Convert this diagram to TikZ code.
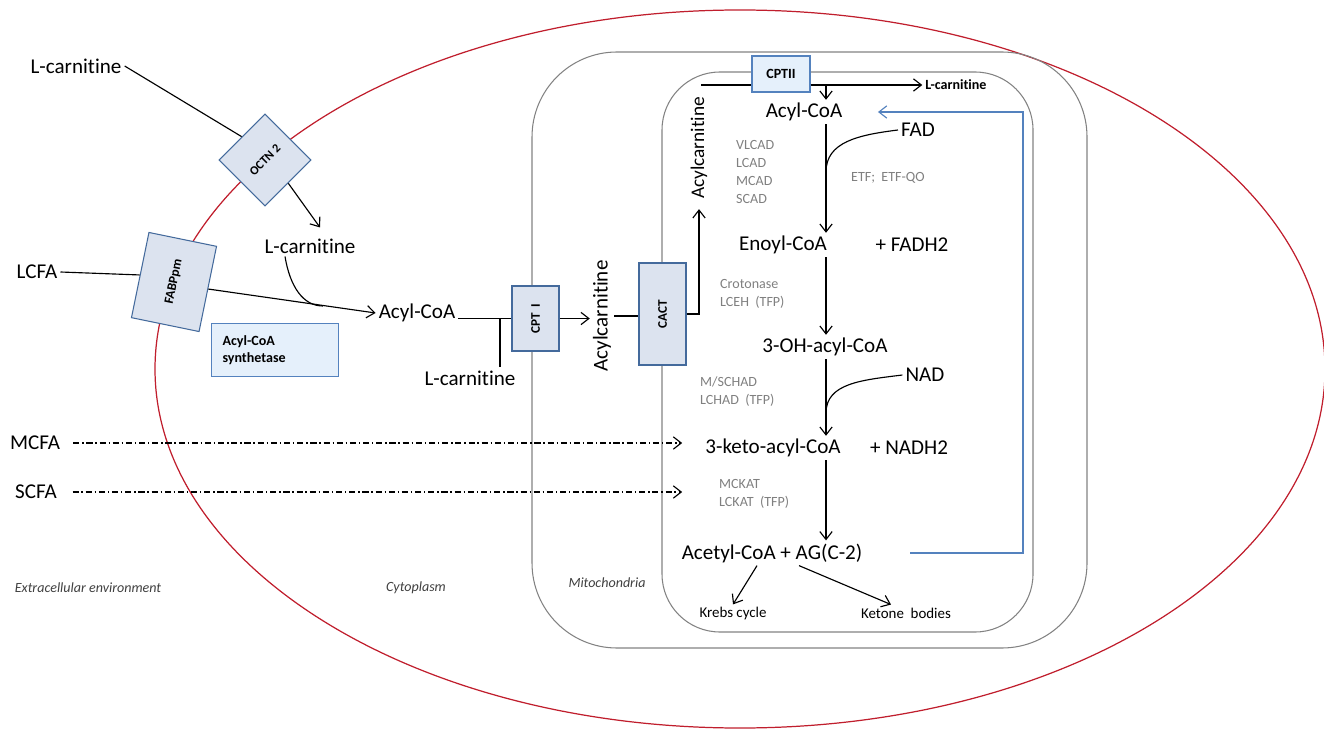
\documentclass[tikz,border=0pt]{standalone}
\usepackage{fontspec}
\setmainfont{Carlito}[Ligatures=NoCommon]
\usepackage{tikz}
\usetikzlibrary{arrows.meta}

\definecolor{membrane}{RGB}{192,30,45}
\definecolor{wall}{RGB}{130,130,130}
\definecolor{protfill}{RGB}{220,227,239}
\definecolor{protline}{RGB}{68,106,156}
\definecolor{synfill}{RGB}{229,240,251}
\definecolor{synline}{RGB}{84,130,190}
\definecolor{enzgray}{RGB}{128,128,128}
\definecolor{fbblue}{RGB}{84,130,190}
\definecolor{zonegray}{RGB}{64,64,64}

\begin{document}
\begin{tikzpicture}[x=0.02cm, y=0.02cm, line width=0.65pt]
\tikzstyle{every node}+=[inner sep=1.5pt]
\tikzstyle{met}=[font=\fontsize{12}{14}\selectfont]
\tikzstyle{enz}=[font=\fontsize{8}{10.2}\selectfont, text=enzgray, align=left, anchor=west]
\tikzstyle{zone}=[font=\fontsize{8}{9}\selectfont\itshape, text=zonegray]
\tikzstyle{prot}=[draw=protline, fill=protfill, line width=0.6pt, font=\fontsize{7.5}{9}\selectfont\bfseries, inner sep=0pt]
\tikzstyle{syn}=[draw=synline, fill=synfill, line width=0.6pt, font=\fontsize{8}{9.5}\selectfont\bfseries]
\tikzstyle{arr}=[-{Straight Barb[length=4.5pt,width=7pt]}]
\tikzstyle{dda}=[arr, dash pattern=on 3.5pt off 1.6pt on 0.8pt off 1.6pt]
\tikzstyle{fb}=[draw=fbblue, arr]
\useasboundingbox (0,0) rectangle (1324,-729);
\draw [draw=membrane, line width=0.7pt] (740,-369) ellipse (585 and 359);
\draw [draw=wall, line width=0.6pt, rounded corners=1.7cm] (532,-52) rectangle (1087,-648);
\draw [draw=wall, line width=0.6pt, rounded corners=1.16cm] (662,-72) rectangle (1033,-632);
\node [met] (lcar1) at (76,-66) {L-carnitine};
\node [met] (lcfa) at (37,-272) {LCFA};
\node [met] (mcfa) at (35,-443) {MCFA};
\node [met] (scfa) at (36,-492) {SCFA};
\node [prot, rotate=45, minimum width=1.3cm, minimum height=1.3cm, font=\fontsize{7}{8}\selectfont\bfseries] (octn) at (265,-160) {OCTN 2};
\node [prot, rotate=78.4, minimum width=1.74cm, minimum height=1.38cm] (fabp) at (174,-282) {FABPpm};
\node [met] (lcar2) at (310,-246) {L-carnitine};
\node [met] (acoa1) at (417,-313) {Acyl-CoA};
\node [syn, minimum width=2.54cm, minimum height=1.06cm, text width=2.1cm, align=left] (acs) at (275,-350) {Acyl-CoA\\synthetase};
\node [met] (lcar3) at (470,-378) {L-carnitine};
\node [prot, rotate=90, minimum width=1.3cm, minimum height=0.94cm] (cpt1) at (535.5,-318.5) {CPT~ I};
\node [met, rotate=90] (acyl1) at (602,-316) {Acylcarnitine};
\node [prot, rotate=90, minimum width=2.04cm, minimum height=0.94cm] (cact) at (662.5,-314) {CACT};
\node [met, rotate=90, font=\fontsize{11}{13}\selectfont] (acyl2) at (699,-148) {Acylcarnitine};
\node [syn, minimum width=1.16cm, minimum height=0.72cm] (cpt2) at (781,-74) {CPTII};
\node [font=\fontsize{8}{9.5}\selectfont\bfseries] (lcar4) at (956,-85) {L-carnitine};
\node [met] (acoa2) at (804,-112) {Acyl-CoA};
\node [met] (fad) at (918,-130) {FAD};
\node [met] (enoyl) at (783,-245) {Enoyl-CoA};
\node [met] (fadh) at (912,-245) {+ FADH2};
\node [met] (ohacyl) at (825,-347) {3-OH-acyl-CoA};
\node [met] (nad) at (925,-375) {NAD};
\node [met] (keto) at (773,-448) {3-keto-acyl-CoA};
\node [met] (nadh) at (909,-448) {+ NADH2};
\node [met] (acetyl) at (772,-553) {Acetyl-CoA + AG(C-2)};
\node [font=\fontsize{8.5}{10}\selectfont] (krebs) at (733,-614) {Krebs cycle};
\node [font=\fontsize{8.5}{10}\selectfont] (ketone) at (906,-613) {Ketone~ bodies};
\node [enz] (acad) at (733,-172) {VLCAD\\LCAD\\MCAD\\SCAD};
\node [enz] (etf) at (848,-178) {ETF;~ ETF-QO};
\node [enz] (hyd) at (717,-294) {Crotonase\\LCEH~ (TFP)};
\node [enz] (had) at (697,-392) {M/SCHAD\\LCHAD~ (TFP)};
\node [enz] (kat) at (716,-494) {MCKAT\\LCKAT~ (TFP)};
\node [zone] (extra) at (88,-588) {Extracellular environment};
\node [zone] (cyto) at (416,-588) {Cytoplasm};
\node [zone] (mito) at (607,-583) {Mitochondria};
\coordinate (merge) at (323,-306);
\coordinate (tj) at (500,-319);
\coordinate (cl0) at (701,-85);
\coordinate (ax) at (826,0);
\coordinate (fadin) at (826,-172);
\coordinate (nadin) at (826,-413);
\coordinate (fbx) at (1023,0);
\draw (lcar1.east) -- (octn.north);
\draw [arr] (octn.south) -- ([xshift=0.2cm,yshift=0.16cm]lcar2.north);
\draw (lcfa.east) -- (fabp.north);
\draw [arr] (fabp.south) -- (acoa1.west);
\draw ([xshift=-0.5cm]lcar2.south) .. controls +(5,-30) and +(-20,0) .. (merge);
\draw (acoa1.east |- cpt1.north) -- (cpt1.north);
\draw (tj) -- (tj |- lcar3.north);
\draw [arr] (cpt1.south) -- (cpt1.south -| acyl1.north);
\draw (acyl1.south) -- (acyl1.south -| cact.north);
\draw [arr, shorten >=4pt] (cact.south) -| (acyl2.west);
\draw (cl0) -- (cl0 -| cpt2.west);
\draw [arr] (cl0 -| cpt2.east) -- (lcar4.west);
\draw [arr] (ax |- cl0) -- (ax |- acoa2.north);
\draw [arr] (ax |- acoa2.south) -- (ax |- enoyl.north);
\draw [arr] (ax |- enoyl.south) -- (ax |- ohacyl.north);
\draw [arr] (ax |- ohacyl.south) -- (ax |- keto.north);
\draw [arr] (ax |- keto.south) -- (ax |- acetyl.north);
\draw (fad.west) .. controls +(-40,-5) and +(0,30) .. (fadin);
\draw (nad.west) .. controls +(-40,-5) and +(0,30) .. (nadin);
\draw [fb, shorten <=0.9cm, shorten >=0.65cm] (acetyl.east) -- (acetyl.east -| fbx) -- (fbx |- acoa2.east) -- (acoa2.east);
\draw [dda, shorten <=0.2cm, shorten >=0.4cm] (mcfa.east) -- (mcfa.east -| keto.west);
\draw [dda, shorten <=0.25cm, shorten >=0.4cm] (scfa.east) -- (scfa.east -| keto.west);
\draw [arr] ([xshift=-0.3cm]acetyl.south) -- (krebs.north);
\draw [arr] ([xshift=0.54cm]acetyl.south) -- ([xshift=-0.3cm]ketone.north);
\end{tikzpicture}
\end{document}
